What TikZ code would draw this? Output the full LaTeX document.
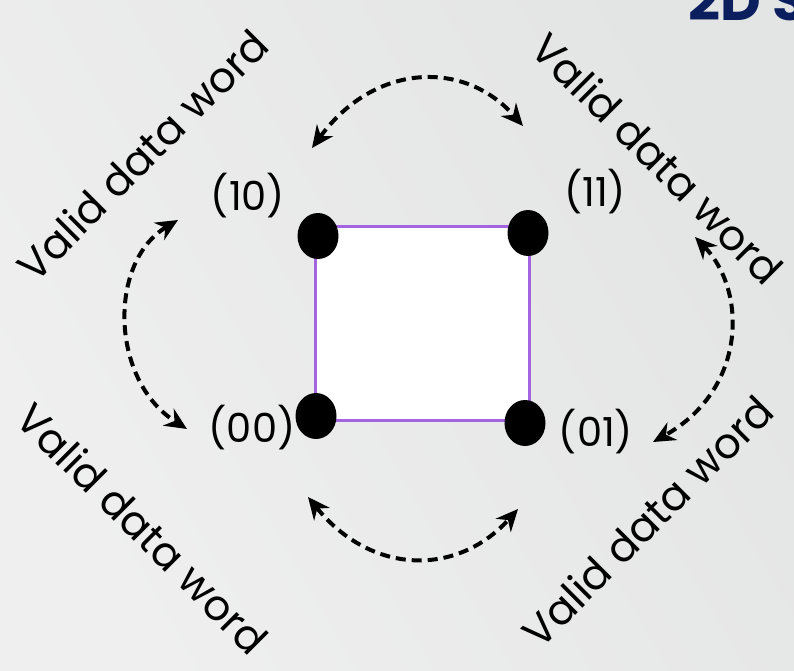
\documentclass[tikz,border=0pt]{standalone}
\usepackage{fontspec}
\setmainfont{Poppins}
\usetikzlibrary{arrows.meta,shapes.geometric}
\definecolor{bgA}{HTML}{E3E4E4}
\definecolor{bgB}{HTML}{EFEFEF}
\definecolor{edgepurple}{HTML}{A463E0}
\definecolor{titlenavy}{HTML}{0B1F5E}
\tikzset{
  vertex/.style={ellipse, fill=black, minimum width=41pt, minimum height=46pt, inner sep=0pt},
  bitlabel/.style={font=\fontsize{40}{40}\selectfont, inner sep=0pt},
  wordlabel/.style={font=\fontsize{42}{42}\selectfont, inner sep=0pt},
  swap/.style={dashed, dash pattern=on 10pt off 6pt, line width=4pt,
    {Stealth[length=22pt,width=20pt]}-{Stealth[length=22pt,width=20pt]}},
}
\begin{document}
\begin{tikzpicture}[x=1pt,y=-1pt]
  \useasboundingbox (0,0) rectangle (794,671);
  \clip (0,0) rectangle (794,671);
  \shade[left color=bgA, right color=bgB, shading angle=-60] (0,0) rectangle (794,671);

  % heading, cut off by the frame
  \node[anchor=north west, inner sep=0pt, text=titlenavy,
        font=\fontsize{56}{56}\selectfont\bfseries] (title) at (688,-21) {2D S};

  % the square of code words
  \draw[fill=white, draw=edgepurple, line width=3pt] (315,226) rectangle (529,420);
  \node[vertex] (v10) at (318,236) {};
  \node[vertex] (v11) at (528,233) {};
  \node[vertex] (v00) at (316,416) {};
  \node[vertex] (v01) at (525,423) {};

  \node[bitlabel] (l10) at (248,196) {(10)};
  \node[bitlabel] (l11) at (595,192) {(11)};
  \node[bitlabel] (l00) at (252,428) {(00)};
  \node[bitlabel] (l01) at (596,432) {(01)};

  % rotated captions
  \node[wordlabel, rotate=45] (wtl) at (142,155) {Valid data word};
  \node[wordlabel, rotate=-45] (wtr) at (658,158) {Valid data word};
  \node[wordlabel, rotate=-45] (wbl) at (143,528) {Valid data word};
  \node[wordlabel, rotate=45] (wbr) at (647,521) {Valid data word};

  % end points of the exchange arrows
  \coordinate (ta) at (312,148);  \coordinate (tb) at (523,126);
  \coordinate (la) at (178,220);  \coordinate (lb) at (187,429);
  \coordinate (ra) at (695,237);  \coordinate (rb) at (653,442);
  \coordinate (ba) at (308,497);  \coordinate (bb) at (518,509);

  \draw[swap] (ta) .. controls (375,62) and (465,60) .. (tb);
  \draw[swap] (la) .. controls (108,262) and (110,380) .. (lb);
  \draw[swap] (ra) .. controls (748,292) and (746,390) .. (rb);
  \draw[swap] (ba) .. controls (372,576) and (458,576) .. (bb);
\end{tikzpicture}
\end{document}
